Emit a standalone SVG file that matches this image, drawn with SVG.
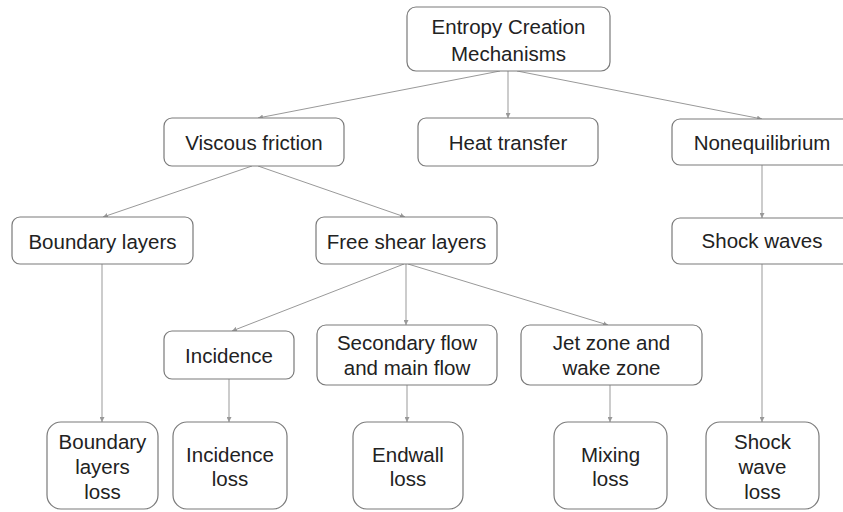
<svg xmlns="http://www.w3.org/2000/svg" width="843" height="512" viewBox="0 0 843 512">
<defs>
<style>
.box{fill:#fff;stroke:#7a7a7a;stroke-width:1.2}
.t{font-family:"Liberation Sans",Arial,sans-serif;font-size:20.5px;fill:#222;text-anchor:middle}
.c{stroke:#999;stroke-width:1;fill:none;marker-end:url(#ah)}
</style>
<marker id="ah" viewBox="0 0 8 8" refX="8" refY="4" markerWidth="5" markerHeight="5" orient="auto" markerUnits="userSpaceOnUse">
<path d="M0,0 L8,4 L0,8 z" fill="#999"/>
</marker>
</defs>
<rect width="843" height="512" fill="#fff"/>
<g id="connectors">
<line class="c" x1="508" y1="71" x2="508" y2="118"/>
<line class="c" x1="500" y1="71" x2="258" y2="118"/>
<line class="c" x1="517" y1="71" x2="762" y2="119"/>
<line class="c" x1="252" y1="166" x2="103" y2="217"/>
<line class="c" x1="258" y1="166" x2="405" y2="217"/>
<line class="c" x1="762" y1="165" x2="762" y2="218"/>
<line class="c" x1="102" y1="264" x2="102" y2="422"/>
<line class="c" x1="404" y1="264" x2="232" y2="331"/>
<line class="c" x1="406" y1="264" x2="406" y2="325"/>
<line class="c" x1="408" y1="264" x2="608" y2="325"/>
<line class="c" x1="229" y1="379" x2="229" y2="422"/>
<line class="c" x1="407" y1="385" x2="407" y2="422"/>
<line class="c" x1="610" y1="385" x2="610" y2="422"/>
<line class="c" x1="762" y1="264" x2="762" y2="422"/>
</g>
<g id="entropy"><rect class="box" x="407" y="7" width="203" height="64" rx="9"/><text class="t" x="508.5" y="34">Entropy Creation</text><text class="t" x="508.5" y="61">Mechanisms</text></g>
<g id="viscous"><rect class="box" x="164" y="118" width="180" height="48" rx="8"/><text class="t" x="254" y="150">Viscous friction</text></g>
<g id="heat"><rect class="box" x="418" y="118" width="180" height="48" rx="8"/><text class="t" x="508" y="150">Heat transfer</text></g>
<g id="noneq"><rect class="box" x="672" y="119" width="182" height="46" rx="8"/><text class="t" x="762" y="150">Nonequilibrium</text></g>
<g id="boundary"><rect class="box" x="12" y="217" width="181" height="47" rx="8"/><text class="t" x="102.5" y="249">Boundary layers</text></g>
<g id="freeshear"><rect class="box" x="316" y="217" width="181" height="47" rx="8"/><text class="t" x="406.5" y="249">Free shear layers</text></g>
<g id="shock"><rect class="box" x="672" y="218" width="182" height="46" rx="8"/><text class="t" x="762" y="248">Shock waves</text></g>
<g id="incidence"><rect class="box" x="164" y="331" width="130" height="48" rx="8"/><text class="t" x="229" y="363">Incidence</text></g>
<g id="secondary"><rect class="box" x="317" y="325" width="180" height="60" rx="9"/><text class="t" x="407" y="350">Secondary flow</text><text class="t" x="407" y="375">and main flow</text></g>
<g id="jet"><rect class="box" x="521" y="325" width="181" height="60" rx="9"/><text class="t" x="611.5" y="350">Jet zone and</text><text class="t" x="611.5" y="375">wake zone</text></g>
<g id="blloss"><rect class="box" x="47" y="422" width="111" height="87" rx="14"/><text class="t" x="102.5" y="449">Boundary</text><text class="t" x="102.5" y="474">layers</text><text class="t" x="102.5" y="499">loss</text></g>
<g id="incloss"><rect class="box" x="173" y="422" width="114" height="87" rx="14"/><text class="t" x="230" y="462">Incidence</text><text class="t" x="230" y="486">loss</text></g>
<g id="endwall"><rect class="box" x="353" y="422" width="110" height="87" rx="14"/><text class="t" x="408" y="462">Endwall</text><text class="t" x="408" y="486">loss</text></g>
<g id="mixing"><rect class="box" x="554" y="422" width="113" height="87" rx="14"/><text class="t" x="610.5" y="462">Mixing</text><text class="t" x="610.5" y="486">loss</text></g>
<g id="shockloss"><rect class="box" x="706" y="422" width="113" height="87" rx="14"/><text class="t" x="762.5" y="449">Shock</text><text class="t" x="762.5" y="474">wave</text><text class="t" x="762.5" y="499">loss</text></g>
</svg>
